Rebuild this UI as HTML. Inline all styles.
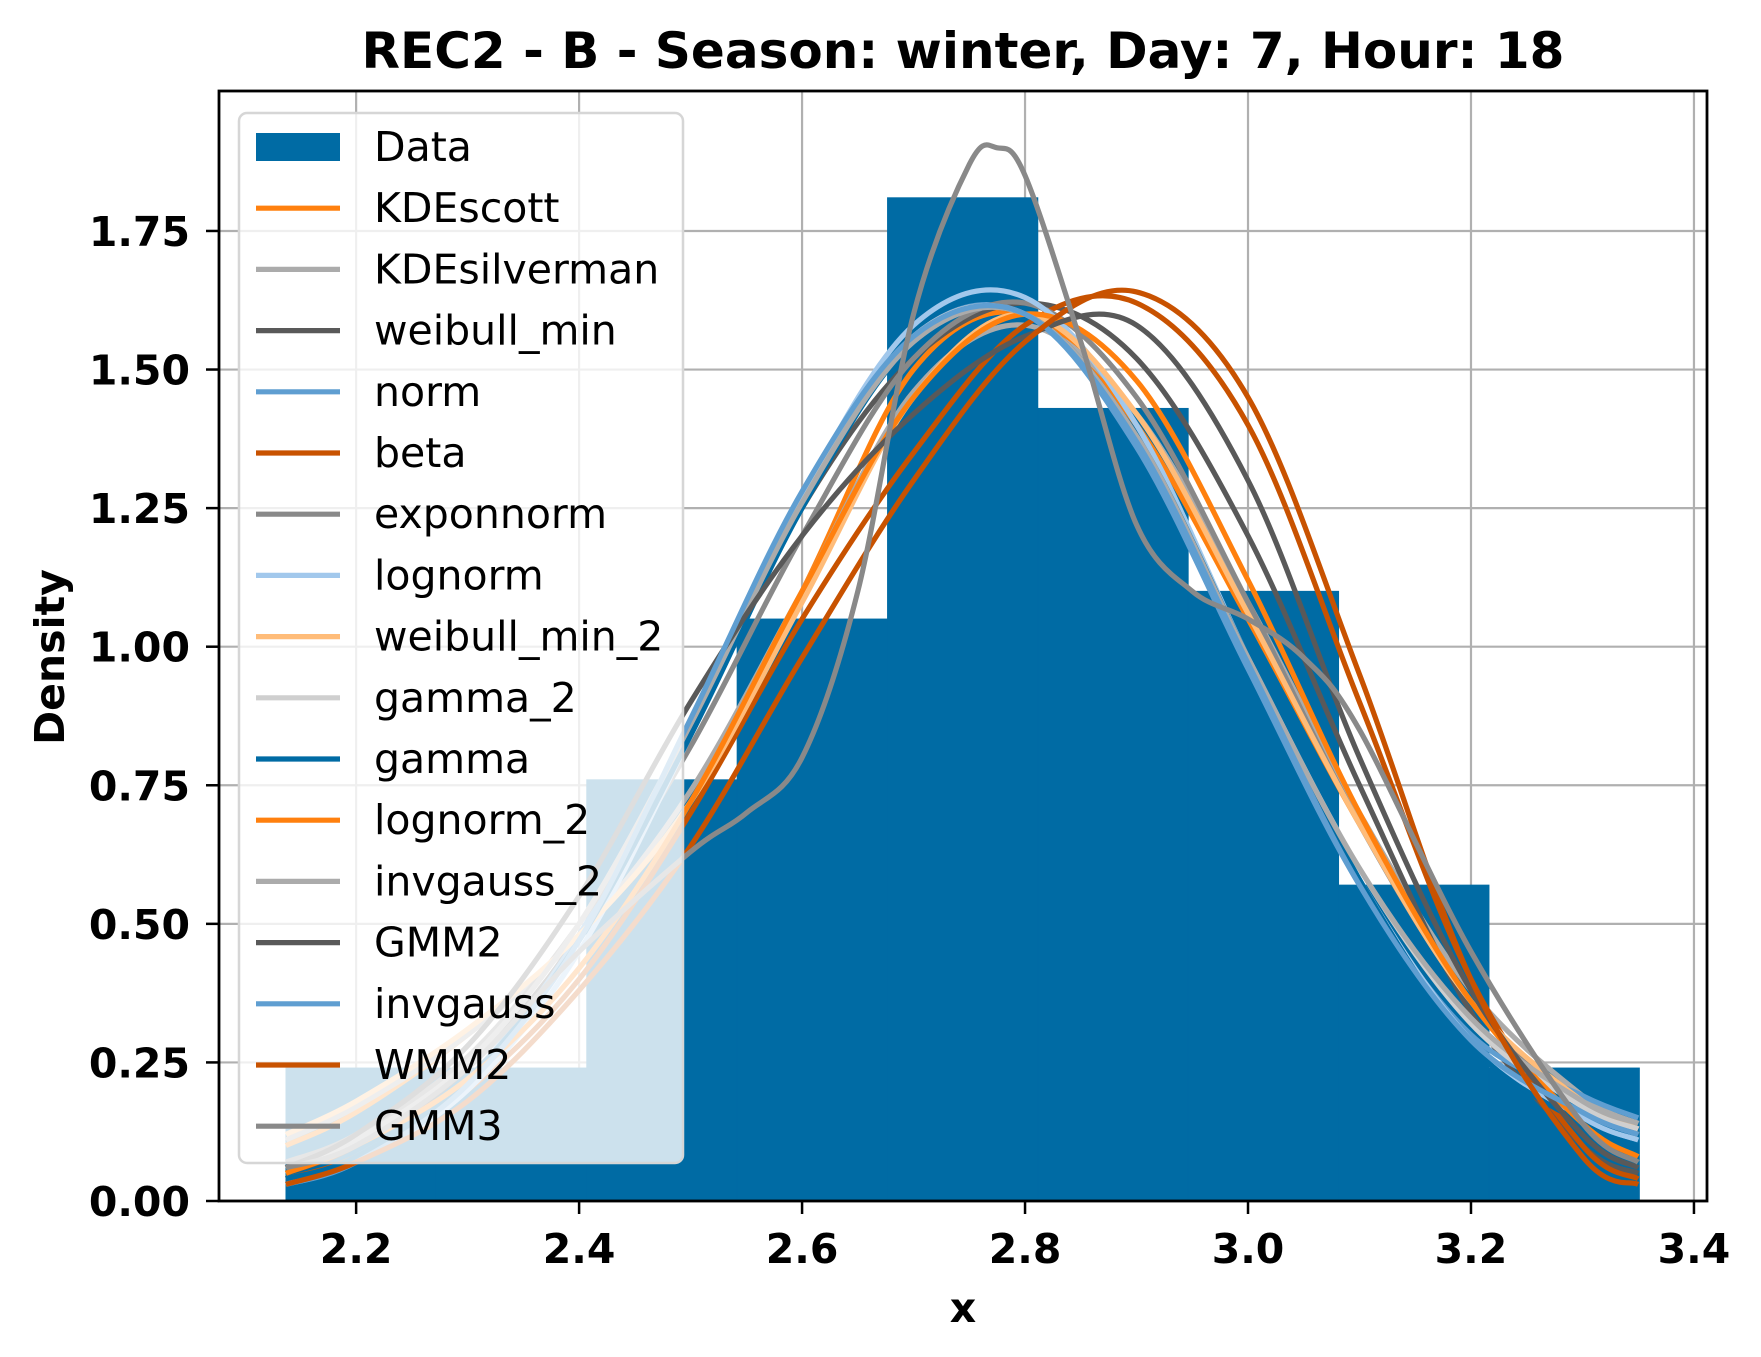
<!DOCTYPE html>
<html><head><meta charset="utf-8"><style>
body{margin:0;background:#fff}
svg{display:block;font-family:"DejaVu Sans","Liberation Sans",sans-serif}
</style></head><body>
<svg id="chart" width="1761" height="1357" viewBox="0 0 1761 1357" xmlns="http://www.w3.org/2000/svg">
<rect width="1761" height="1357" fill="#fff"/>
<text x="963" y="68" font-size="50" font-weight="bold" text-anchor="middle">REC2 - B - Season: winter, Day: 7, Hour: 18</text>
<g id="grid"></g><g id="bars"></g><g id="curves"></g><g id="legend"></g><g id="axes"></g>
<text x="963" y="1322" font-size="41" font-weight="bold" text-anchor="middle">x</text>
<text transform="translate(64,657) rotate(-90)" font-size="41" font-weight="bold" text-anchor="middle">Density</text>
</svg>
<script>
const binStart = 2.137, binWidth = 0.1349;
const binHeights = [0.24,0.24,0.76,1.05,1.81,1.43,1.10,0.57,0.24];
const xTicks = [2.2,2.4,2.6,2.8,3.0,3.2,3.4];
const xTickLabels = ["2.2","2.4","2.6","2.8","3.0","3.2","3.4"];
const yTicks = [0,0.25,0.5,0.75,1.0,1.25,1.5,1.75];
const yTickLabels = ["0.00","0.25","0.50","0.75","1.00","1.25","1.50","1.75"];
const gridX = [2.137,2.2,2.3,2.4,2.5,2.6,2.7,2.8,2.9,3.0,3.1,3.2,3.3,3.35];
const seriesNames = ["KDEscott","KDEsilverman","weibull_min","norm","beta","exponnorm","lognorm","weibull_min_2","gamma_2","gamma","lognorm_2","invgauss_2","GMM2","invgauss","WMM2","GMM3"];
const seriesColors = ["#FF800E","#ABABAB","#595959","#5F9ED1","#C85200","#898989","#A2C8EC","#FFBC79","#CFCFCF","#006BA4","#FF800E","#ABABAB","#595959","#5F9ED1","#C85200","#898989"];
const kdeScott = [0.10,0.16,0.30,0.48,0.72,1.10,1.50,1.60,1.40,1.05,0.68,0.36,0.17,0.12];
const kdeSilverman = [0.11,0.17,0.30,0.48,0.74,1.10,1.46,1.58,1.42,1.08,0.70,0.38,0.19,0.14];
const weibullMin = [0.05,0.10,0.24,0.48,0.85,1.25,1.52,1.62,1.52,1.20,0.75,0.34,0.10,0.05];
const normVals = [0.04,0.08,0.22,0.48,0.86,1.26,1.56,1.60,1.36,0.96,0.57,0.30,0.19,0.15];
const betaVals = [0.04,0.08,0.20,0.40,0.70,1.05,1.35,1.58,1.62,1.40,0.90,0.40,0.10,0.04];
const exponnormVals = [0.07,0.12,0.26,0.50,0.82,1.20,1.52,1.62,1.45,1.08,0.68,0.36,0.17,0.12];
const lognormVals = [0.03,0.07,0.20,0.45,0.84,1.27,1.58,1.63,1.40,0.98,0.58,0.29,0.15,0.11];
const weibullMin2 = [0.12,0.18,0.31,0.48,0.72,1.08,1.45,1.60,1.42,1.06,0.68,0.36,0.18,0.13];
const gamma2 = [0.06,0.11,0.25,0.50,0.86,1.26,1.56,1.60,1.38,0.98,0.60,0.32,0.17,0.13];
const gammaVals = [0.04,0.08,0.22,0.47,0.84,1.25,1.55,1.60,1.38,0.98,0.58,0.28,0.14,0.10];
const lognorm2 = [0.05,0.10,0.22,0.42,0.72,1.10,1.45,1.60,1.48,1.12,0.70,0.36,0.14,0.08];
const invgauss2 = [0.06,0.11,0.25,0.50,0.86,1.26,1.55,1.60,1.38,0.98,0.60,0.33,0.18,0.14];
const gmm2Vals = [0.06,0.12,0.28,0.55,0.90,1.20,1.42,1.56,1.58,1.30,0.80,0.38,0.12,0.06];
const invgaussVals = [0.03,0.07,0.21,0.47,0.87,1.28,1.56,1.60,1.37,0.97,0.57,0.29,0.16,0.12];
const wmm2Vals = [0.03,0.07,0.18,0.38,0.64,0.98,1.30,1.55,1.64,1.45,0.95,0.40,0.08,0.03];
const gmm3X = [2.137,2.2,2.3,2.4,2.5,2.55,2.6,2.65,2.7,2.75,2.775,2.8,2.85,2.9,2.95,3.0,3.05,3.1,3.2,3.3,3.35];
const gmm3Vals = [0.06,0.10,0.24,0.45,0.63,0.70,0.80,1.10,1.60,1.87,1.90,1.85,1.55,1.22,1.10,1.05,0.98,0.85,0.45,0.14,0.07];
const seriesValues = [kdeScott,kdeSilverman,weibullMin,normVals,betaVals,exponnormVals,lognormVals,weibullMin2,gamma2,gammaVals,lognorm2,invgauss2,gmm2Vals,invgaussVals,wmm2Vals,gmm3Vals];

const NS="http://www.w3.org/2000/svg";
const L=219,R=1707,T=91,B=1201,xmin=2.077,xmax=3.4117,ymax=2.0025;
const sx=v=>L+(v-xmin)/(xmax-xmin)*(R-L);
const sy=v=>B-v/ymax*(B-T);
function mk(tag,attrs,parent){const e=document.createElementNS(NS,tag);for(const k in attrs)e.setAttribute(k,attrs[k]);parent.appendChild(e);return e;}
const grid=document.getElementById('grid'),bars=document.getElementById('bars'),curves=document.getElementById('curves'),legend=document.getElementById('legend'),axes=document.getElementById('axes');
xTicks.forEach((t,i)=>{
  const g=mk('line',{x1:sx(t),x2:sx(t),y1:T,y2:B,stroke:'#b0b0b0','stroke-width':2.2},grid);
  
  
  const tk=mk('line',{x1:sx(t),x2:sx(t),y1:B,y2:B+13,stroke:'#000','stroke-width':2.5},axes);
  
  
  const lb=mk('text',{x:sx(t),y:B+62,'font-size':41,'font-weight':'bold','text-anchor':'middle'},axes);
  lb.textContent=xTickLabels[i];
  
  
});
yTicks.forEach((t,i)=>{
  const g=mk('line',{x1:L,x2:R,y1:sy(t),y2:sy(t),stroke:'#b0b0b0','stroke-width':2.2},grid);
  
  
  const tk=mk('line',{x1:L-13,x2:L,y1:sy(t),y2:sy(t),stroke:'#000','stroke-width':2.5},axes);
  
  
  const lb=mk('text',{x:L-29,y:sy(t)+15,'font-size':41,'font-weight':'bold','text-anchor':'end'},axes);
  lb.textContent=yTickLabels[i];
  
  
});
binHeights.forEach((h,i)=>{
  const x0=sx(binStart+i*binWidth),x1=sx(binStart+(i+1)*binWidth);
  const r=mk('rect',{x:x0,y:sy(h),width:x1-x0,height:B-sy(h),fill:'#006BA4',stroke:'#006BA4','stroke-width':0.8},bars);
  
  
});
function pathFor(xs,ys){
  const p=xs.map((x,i)=>[sx(x),sy(ys[i])]);
  let d='M'+p[0][0]+','+p[0][1];
  for(let i=0;i<p.length-1;i++){
    const p0=p[i-1]||p[i],p1=p[i],p2=p[i+1],p3=p[i+2]||p2;
    const c1=[p1[0]+(p2[0]-p0[0])/6,p1[1]+(p2[1]-p0[1])/6];
    const c2=[p2[0]-(p3[0]-p1[0])/6,p2[1]-(p3[1]-p1[1])/6];
    d+=' C'+c1[0]+','+c1[1]+' '+c2[0]+','+c2[1]+' '+p2[0]+','+p2[1];
  }
  return d;
}
seriesValues.forEach((vals,i)=>{
  const xs=(i===15)?gmm3X:gridX;
  const c=mk('path',{d:pathFor(xs,vals),fill:'none',stroke:seriesColors[i],'stroke-width':5.2,'stroke-linejoin':'round'},curves);
  
  
});
const box=mk('rect',{x:239,y:113,width:444,height:1050,rx:8,fill:'rgba(255,255,255,0.8)',stroke:'#d6d6d6','stroke-width':2.5},legend);


const entries=['Data'].concat(seriesNames);
const eColors=['#006BA4'].concat(seriesColors);
entries.forEach((n,i)=>{
  const y=147+i*61.2;
  let h;
  if(i===0){h=mk('rect',{x:256,y:y-14,width:84,height:28,fill:eColors[i]},legend);}
  else{h=mk('line',{x1:256,x2:340,y1:y,y2:y,stroke:eColors[i],'stroke-width':5.2},legend);}
  
  
  const t=mk('text',{x:374,y:y+14,'font-size':41},legend);
  t.textContent=n;
  
  
});
const frame=mk('rect',{x:L,y:T,width:R-L,height:B-T,fill:'none',stroke:'#000','stroke-width':2.8},axes);


</script>
</body></html>
